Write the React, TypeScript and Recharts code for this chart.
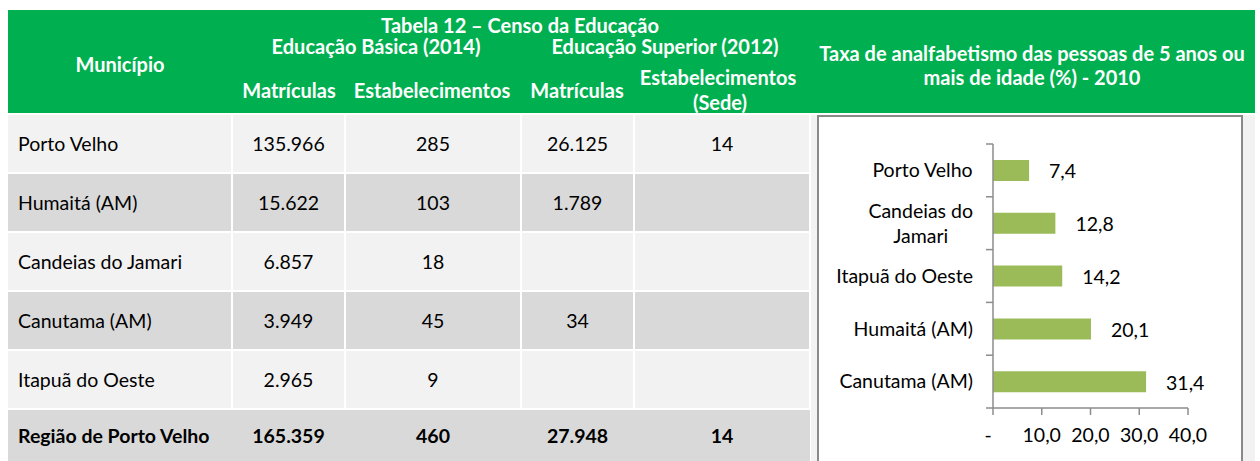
import React from "react";
import { BarChart, Bar, XAxis, YAxis, LabelList } from "recharts";

// table data
const municipios = ["Porto Velho", "Humaitá (AM)", "Candeias do Jamari", "Canutama (AM)", "Itapuã do Oeste"];
const matriculasBasica = ["135.966", "15.622", "6.857", "3.949", "2.965"];
const estabBasica = ["285", "103", "18", "45", "9"];
const matriculasSuperior = ["26.125", "1.789", "", "34", ""];
const estabSuperior = ["14", "", "", "", ""];
const totalRow = ["Região de Porto Velho", "165.359", "460", "27.948", "14"];

// chart data
const chartCategories = ["Porto Velho", "Candeias do Jamari", "Itapuã do Oeste", "Humaitá (AM)", "Canutama (AM)"];
const analfabetismo = [7.4, 12.8, 14.2, 20.1, 31.4];
const xTicks = [0, 10, 20, 30, 40];

const chartData = chartCategories.map((name, i) => ({ name, value: analfabetismo[i] }));

const FONT = "Lato, 'Open Sans', sans-serif";
const GREEN = "#00b050";
const LIGHT = "#f2f2f2";
const DARK = "#d9d9d9";
const AXIS = "#8c8c8c";
const FS = 19.5;

const colEdges = [8, 232, 345, 521, 634, 810];
const rowTop = 115;
const rowPitch = 59;
const rowH = 57;

const CHART_W = 422;
const CHART_H = 346;
const MARGIN = { top: 27, right: 53, bottom: 25, left: 0 };
const X_AXIS_H = 30;
const Y_AXIS_W = 174;
const PLOT_H = CHART_H - MARGIN.top - MARGIN.bottom - X_AXIS_H;
const HALF_BAND = PLOT_H / chartCategories.length / 2;

const fmt = (v: number) => (v === 0 ? "-" : v.toFixed(1).replace(".", ","));

let ctx: CanvasRenderingContext2D | null = null;
const textWidth = (s: string, font: string) => {
  if (!ctx) ctx = document.createElement("canvas").getContext("2d");
  if (!ctx) return s.length * 9;
  ctx.font = font;
  return ctx.measureText(s).width;
};

const wrap = (s: string, maxW: number, font: string) => {
  const words = s.split(" ");
  const lines: string[] = [];
  let cur = "";
  words.forEach((w) => {
    const next = cur ? cur + " " + w : w;
    if (cur && textWidth(next, font) > maxW) {
      lines.push(cur);
      cur = w;
    } else cur = next;
  });
  if (cur) lines.push(cur);
  return lines;
};

const CategoryTick = (props: any) => {
  const { x, y, payload, index, visibleTicksCount } = props;
  const font = `${FS}px ${FONT}`;
  const lines = wrap(payload.value, 152, font);
  const w = Math.max(...lines.map((l) => textWidth(l, font)));
  const cx = x - 20 - w / 2;
  const lh = 25;
  return (
    <g>
      <line x1={x - 7} x2={x} y1={y - HALF_BAND} y2={y - HALF_BAND} stroke={AXIS} strokeWidth={1.5} />
      {index === visibleTicksCount - 1 && (
        <line x1={x - 7} x2={x} y1={y + HALF_BAND} y2={y + HALF_BAND} stroke={AXIS} strokeWidth={1.5} />
      )}
      {lines.map((l, i) => (
        <text
          key={i}
          x={cx}
          y={y + (i - (lines.length - 1) / 2) * lh}
          dy="0.35em"
          textAnchor="middle"
          fontSize={FS}
          fontFamily={FONT}
          fill="#000"
        >
          {l}
        </text>
      ))}
    </g>
  );
};

const ValueTick = (props: any) => {
  const { x, y, payload } = props;
  return (
    <text
      x={x + (payload.value === 0 ? -5 : 0)}
      y={y}
      dy="0.71em"
      textAnchor="middle"
      fontSize={FS}
      fontFamily={FONT}
      fill="#000"
    >
      {fmt(payload.value)}
    </text>
  );
};

const BarValue = (props: any) => {
  const { x, y, width, height, value } = props;
  return (
    <text
      x={x + width + 20}
      y={y + height / 2}
      dy="0.4em"
      textAnchor="start"
      fontSize={FS}
      fontFamily={FONT}
      fill="#000"
    >
      {fmt(value)}
    </text>
  );
};

const HeaderText = ({ cx, cy, children }: { cx: number; cy: number; children: React.ReactNode }) => (
  <div
    style={{
      position: "absolute",
      left: cx,
      top: cy,
      transform: "translate(-50%, -50%)",
      whiteSpace: "nowrap",
      color: "#fff",
      fontWeight: 700,
      fontSize: 20,
      lineHeight: "22px",
    }}
  >
    {children}
  </div>
);

const Cell = ({
  col,
  top,
  height,
  bg,
  text,
  bold,
}: {
  col: number;
  top: number;
  height: number;
  bg: string;
  text: string;
  bold?: boolean;
}) => {
  const left = colEdges[col] + (col > 0 ? 1 : 0);
  const right = colEdges[col + 1] - 1;
  return (
    <div
      style={{
        position: "absolute",
        left,
        top,
        width: right - left,
        height,
        background: bg,
        display: "flex",
        alignItems: "center",
        justifyContent: col === 0 ? "flex-start" : "center",
        paddingLeft: col === 0 ? 10 : 0,
        boxSizing: "border-box",
        fontSize: FS,
        fontWeight: bold ? 700 : 400,
        color: "#000",
      }}
    >
      {text}
    </div>
  );
};

export default function App() {
  const columns = [municipios, matriculasBasica, estabBasica, matriculasSuperior, estabSuperior];
  return (
    <div
      style={{
        position: "absolute",
        left: 0,
        top: 0,
        width: 1260,
        height: 461,
        overflow: "hidden",
        background: "#fff",
        fontFamily: FONT,
      }}
    >
      {/* green header */}
      <div style={{ position: "absolute", left: 8, top: 10, width: 1247, height: 103, background: GREEN }} />
      <HeaderText cx={520} cy={25}>Tabela 12 – Censo da Educação</HeaderText>
      <HeaderText cx={376} cy={46}>Educação Básica (2014)</HeaderText>
      <HeaderText cx={665} cy={46}>Educação Superior (2012)</HeaderText>
      <HeaderText cx={120} cy={64}>Município</HeaderText>
      <HeaderText cx={289} cy={90}>Matrículas</HeaderText>
      <HeaderText cx={432} cy={90}>Estabelecimentos</HeaderText>
      <HeaderText cx={577} cy={90}>Matrículas</HeaderText>
      <HeaderText cx={718} cy={77}>Estabelecimentos</HeaderText>
      <HeaderText cx={720} cy={102}>(Sede)</HeaderText>
      <HeaderText cx={1032} cy={53}>Taxa de analfabetismo das pessoas de 5 anos ou</HeaderText>
      <HeaderText cx={1032} cy={77}>mais de idade (%) - 2010</HeaderText>

      {/* table rows */}
      {municipios.map((_, r) =>
        columns.map((col, c) => (
          <Cell
            key={`${r}-${c}`}
            col={c}
            top={rowTop + r * rowPitch}
            height={rowH}
            bg={r % 2 === 0 ? LIGHT : DARK}
            text={col[r]}
          />
        ))
      )}
      <div style={{ position: "absolute", left: 8, top: 410, width: 802, height: 51, background: DARK }} />
      {totalRow.map((t, c) => (
        <Cell key={`t-${c}`} col={c} top={410} height={51} bg={DARK} text={t} bold />
      ))}

      {/* chart column */}
      <div style={{ position: "absolute", left: 811, top: 115, width: 444, height: 346, background: LIGHT }} />
      <div
        style={{
          position: "absolute",
          left: 817,
          top: 115,
          width: CHART_W,
          height: CHART_H + 4,
          border: "2px solid #8a8a8a",
          background: "#fff",
        }}
      >
        <BarChart
          width={CHART_W}
          height={CHART_H}
          data={chartData}
          layout="vertical"
          margin={MARGIN}
          barSize={21}
        >
          <XAxis
            type="number"
            domain={[0, 40]}
            ticks={xTicks}
            interval={0}
            height={X_AXIS_H}
            tickSize={7}
            tickMargin={13}
            stroke={AXIS}
            strokeWidth={1.5}
            tick={<ValueTick />}
          />
          <YAxis
            type="category"
            dataKey="name"
            width={Y_AXIS_W}
            interval={0}
            tickLine={false}
            tickSize={0}
            tickMargin={0}
            stroke={AXIS}
            strokeWidth={1.5}
            tick={<CategoryTick />}
          />
          <Bar dataKey="value" fill="#9bbb59" isAnimationActive={false}>
            <LabelList dataKey="value" content={<BarValue />} />
          </Bar>
        </BarChart>
      </div>
    </div>
  );
}
